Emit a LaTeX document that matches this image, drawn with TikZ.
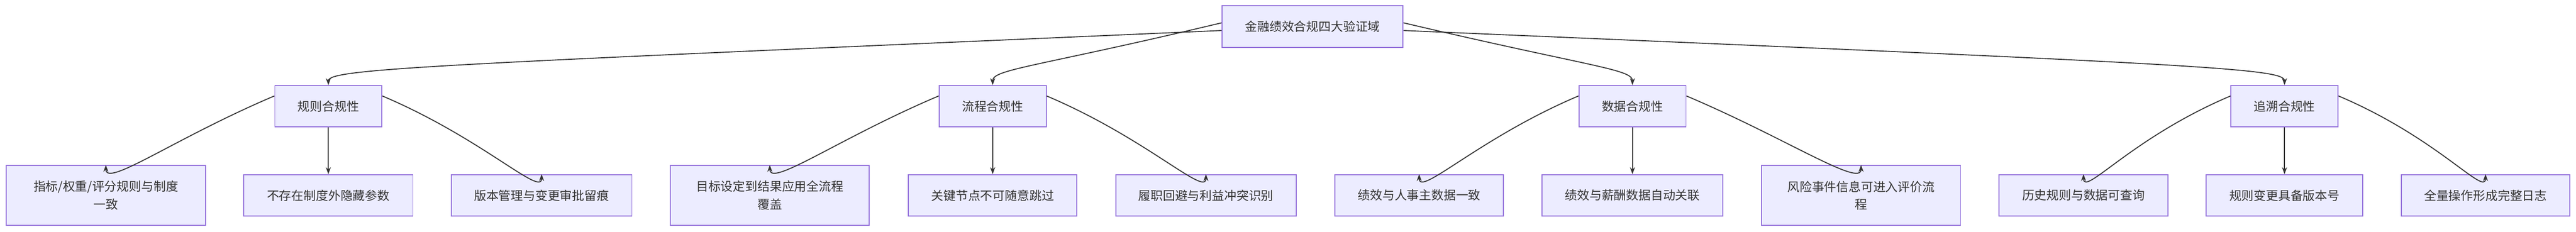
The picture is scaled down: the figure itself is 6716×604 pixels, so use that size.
\documentclass[tikz,border=0pt]{standalone}
\usepackage{fontspec}
\setmainfont{Noto Sans CJK SC}
\usetikzlibrary{arrows.meta}
\definecolor{bfill}{HTML}{ECECFF}
\definecolor{bline}{HTML}{9370DB}
\definecolor{ink}{HTML}{333333}
\tikzset{
  bx/.style={draw=bline,fill=bfill,line width=2.5pt,inner sep=0pt,align=center,text=ink,font=\fontsize{32}{46}\selectfont},
  lv1/.style={bx,minimum width=279pt,minimum height=108pt},
  lf/.style={bx,minimum height=108pt},
  lf2/.style={bx,minimum height=156pt},
  con/.style={draw=ink,line width=2.5pt,-{Stealth[length=18pt,width=13pt]}}
}
\begin{document}
\begin{tikzpicture}[x=1pt,y=-1pt]
\useasboundingbox (0,0) rectangle (6716,604);
\node[bx,minimum width=472pt,minimum height=109pt] (root) at (3422,69.5) {金融绩效合规四大验证域};
\node[lv1] (a) at (856,277) {规则合规性};
\node[lv1] (b) at (2588,277) {流程合规性};
\node[lv1] (c) at (4256,277) {数据合规性};
\node[lv1] (d) at (5956,277) {追溯合规性};
\node[lf2,minimum width=520pt] (a1) at (276,509) {指标/权重/评分规则与制度\\一致};
\node[lf,minimum width=441pt] (a2) at (856,509) {不存在制度外隐藏参数};
\node[lf,minimum width=471pt] (a3) at (1412,509) {版本管理与变更审批留痕};
\node[lf2,minimum width=519pt] (b1) at (2007,509) {目标设定到结果应用全流程\\覆盖};
\node[lf,minimum width=439pt] (b2) at (2588,509) {关键节点不可随意跳过};
\node[lf,minimum width=470pt] (b3) at (3144,509) {履职回避与利益冲突识别};
\node[lf,minimum width=439pt] (c1) at (3700,509) {绩效与人事主数据一致};
\node[lf,minimum width=471pt] (c2) at (4256,509) {绩效与薪酬数据自动关联};
\node[lf2,minimum width=519pt] (c3) at (4852,509) {风险事件信息可进入评价流\\程};
\node[lf,minimum width=440pt] (d1) at (5432,509) {历史规则与数据可查询};
\node[lf,minimum width=408pt] (d2) at (5956,509) {规则变更具备版本号};
\node[lf,minimum width=439pt] (d3) at (6480,509) {全量操作形成完整日志};
% root edges
\draw[con] ([yshift=-10pt]root.west) .. controls (1150,168) and (856,178) .. (a.north);
\draw[con] ([yshift=10pt]root.west) .. controls (2700,175) and (2588,180) .. (b.north);
\draw[con] ([yshift=10pt]root.east) .. controls (4150,175) and (4256,180) .. (c.north);
\draw[con] ([yshift=-10pt]root.east) .. controls (5750,168) and (5956,178) .. (d.north);
% level edges
\foreach \p/\l/\m/\r/\xl/\xr in {a/a1/a2/a3/276/1412,b/b1/b2/b3/2007/3144,c/c1/c2/c3/3700/4852,d/d1/d2/d3/5432/6480}{
  \draw[con] ([yshift=27pt]\p.west) .. controls ++(-260,110) and ([yshift=-60pt]\l.north) .. (\l.north);
  \draw[con] (\p.south) -- (\m.north);
  \draw[con] ([yshift=27pt]\p.east) .. controls ++(260,110) and ([yshift=-60pt]\r.north) .. (\r.north);
}
\end{tikzpicture}
\end{document}
